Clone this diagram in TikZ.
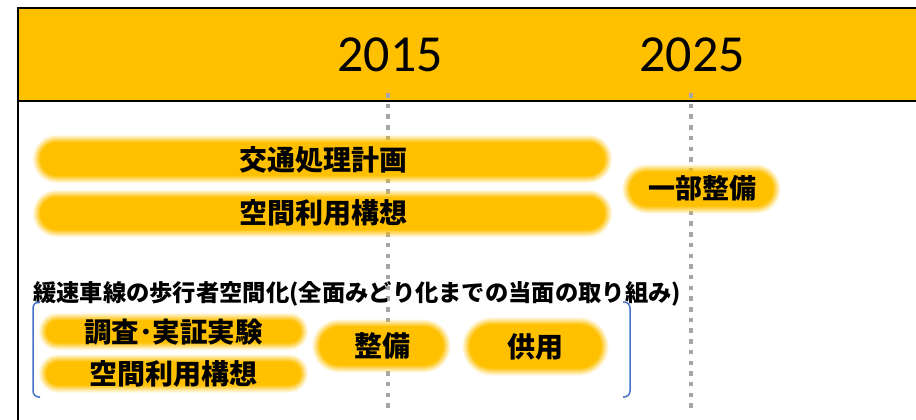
\documentclass[tikz,border=0pt]{standalone}
\usepackage{fontspec}
\usetikzlibrary{shapes.misc}
\newfontfamily\jpfont{Noto Sans CJK JP}
\newfontfamily\yearfont{Carlito}
\definecolor{gold}{HTML}{FFC000}
\definecolor{dotgray}{HTML}{A6A6A6}
\definecolor{brkblue}{HTML}{4472C4}
\begin{document}
\begin{tikzpicture}[x=1pt,y=-1pt,
  bar/.style={rounded rectangle, fill=gold, inner sep=0pt,
    preaction={draw=gold, draw opacity=0.06, line width=16pt},
    preaction={draw=gold, draw opacity=0.13, line width=14pt},
    preaction={draw=gold, draw opacity=0.15, line width=12pt},
    preaction={draw=gold, draw opacity=0.18, line width=10pt},
    preaction={draw=gold, draw opacity=0.22, line width=8pt},
    preaction={draw=gold, draw opacity=0.29, line width=6pt},
    preaction={draw=gold, draw opacity=0.40, line width=4pt},
    preaction={draw=gold, draw opacity=0.67, line width=2pt}},
  lbl/.style={font=\jpfont\bfseries\fontsize{28}{28}\selectfont, inner sep=0pt},
  year/.style={font=\yearfont\fontsize{52}{52}\selectfont, inner sep=0pt},
  dotline/.style={draw=dotgray, line width=4.5pt, dash pattern=on 4.5pt off 6.2pt},
  bracket/.style={draw=brkblue, line width=1.5pt, rounded corners=6pt},
  heading/.style={font=\jpfont\bfseries\fontsize{23.3}{23.3}\selectfont, inner sep=0pt, anchor=west}
]
\useasboundingbox (0,0) rectangle (916,420);
% header band
\fill[gold] (18,8) rectangle (930,101);
\draw[line width=2pt] (930,8) -- (18,8) -- (18,420);
\draw[line width=2pt] (18,101) -- (930,101);
\node[year] (y2015) at (390,55) {2015};
\node[year] (y2025) at (692,55) {2025};
% dotted year lines
\coordinate (d1t) at (388,93);
\coordinate (d1b) at (388,408);
\coordinate (d2t) at (691,93);
\coordinate (d2b) at (691,408);
\draw[dotline] (d1t) -- (d1b);
\draw[dotline] (d2t) -- (d2b);
% upper bars
\node[bar, minimum width=564pt, minimum height=33pt] (plan) at (322.5,159) {};
\node[lbl] (planT) at (323,160) {交通処理計画};
\node[bar, minimum width=564pt, minimum height=32pt] (space) at (322.5,213.5) {};
\node[lbl] (spaceT) at (323,213) {空間利用構想};
\node[bar, minimum width=143pt, minimum height=34pt] (part) at (701.5,189) {};
\node[lbl, font=\jpfont\bfseries\fontsize{27}{27}\selectfont] (partT) at (702,188) {一部整備};
% heading
\node[heading] (head) at (33,294) {緩速車線の歩行者空間化(全面みどり化までの当面の取り組み)};
% brackets
\coordinate (lbt) at (40,302);
\coordinate (lbb) at (40,397);
\coordinate (rbt) at (623,302);
\coordinate (rbb) at (623,397);
\draw[bracket] (lbt) -- ++(-7,0) -- ++(0,95) -- (lbb);
\draw[bracket] (rbt) -- ++(7,0) -- ++(0,95) -- (rbb);
% lower bars
\node[bar, minimum width=254pt, minimum height=22pt] (survey) at (173.5,331.5) {};
\node[lbl, font=\jpfont\bfseries\fontsize{27.5}{27.5}\selectfont] (surveyT) at (173.5,332) {調査･実証実験};
\node[bar, minimum width=254pt, minimum height=23pt] (space2) at (173.5,373.5) {};
\node[lbl] (space2T) at (173.5,373.5) {空間利用構想};
\node[bar, minimum width=123pt, minimum height=38pt] (build) at (381.5,346) {};
\node[lbl] (buildT) at (382,346) {整備};
\node[bar, minimum width=131pt, minimum height=43pt] (open) at (535.5,346.5) {};
\node[lbl] (openT) at (535.5,347) {供用};
\end{tikzpicture}
\end{document}
